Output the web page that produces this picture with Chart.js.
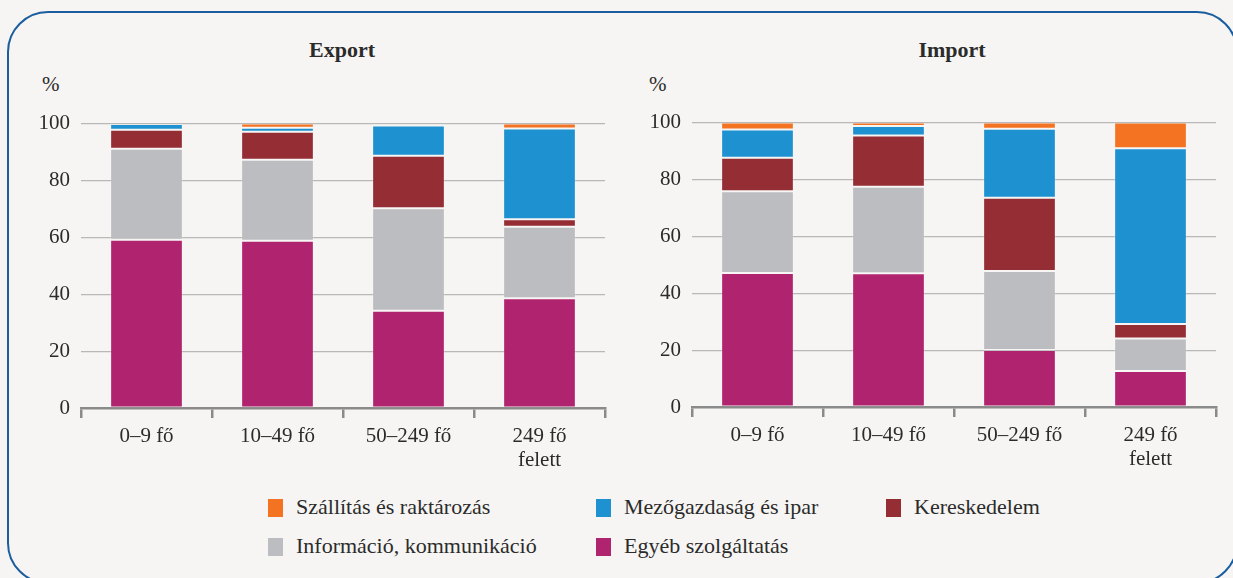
<!DOCTYPE html>
<html>
<head>
<meta charset="utf-8">
<script src="https://cdn.jsdelivr.net/npm/chart.js@4.4.0/dist/chart.umd.min.js"></script>
<style>
  html, body { margin: 0; padding: 0; background: #f6f5f3; }
  body { width: 1233px; height: 578px; position: relative; overflow: hidden;
         font-family: 'Liberation Serif'; color: #2b2b2b; }
  #frame { position: absolute; left: 7px; top: 11px; width: 1231px; height: 573px;
           box-sizing: border-box; border: 2.5px solid #1b5e9f; border-radius: 41px; }
  .title { position: absolute; top: 37px; font-size: 22px; font-weight: bold; text-align: center; width: 200px; }
  .unit { position: absolute; top: 72px; font-size: 21px; }
  .box { position: absolute; }
  #legend { position: absolute; left: 0; top: 0; }
  .item { position: absolute; font-size: 22px; white-space: nowrap; line-height: 20px; }
  .item span.sw { display: inline-block; width: 15px; height: 18px; vertical-align: -3px; margin-right: 13px; }
</style>
</head>
<body>
<div id="frame"></div>
<div class="title" style="left:242px">Export</div>
<div class="title" style="left:852px">Import</div>
<div class="unit" style="left:42px">%</div>
<div class="unit" style="left:649px">%</div>
<div class="box" style="left:10px; top:100px; width:600px; height:370px;"><canvas id="exportChart"></canvas></div>
<div class="box" style="left:617px; top:99px; width:604px; height:370px;"><canvas id="importChart"></canvas></div>
<div id="legend"></div>
<script>
// <![CDATA[
var categories = [["0–9 fő"], ["10–49 fő"], ["50–249 fő"], ["249 fő", "felett"]];
var seriesNames = ["Egyéb szolgáltatás", "Információ, kommunikáció", "Kereskedelem", "Mezőgazdaság és ipar", "Szállítás és raktározás"];

// export, % (bottom to top of each bar)
var exportEgyeb = [59.2, 58.8, 34.2, 38.6];
var exportInfo = [32.0, 28.5, 36.0, 25.1];
var exportKer = [6.6, 9.8, 18.5, 2.7];
var exportMezo = [2.1, 1.4, 10.6, 31.9];
var exportSzall = [0.1, 1.5, 0.7, 1.7];

// import, %
var importEgyeb = [47.1, 47.0, 20.0, 12.7];
var importInfo = [28.8, 30.4, 27.8, 11.4];
var importKer = [11.7, 18.1, 25.8, 5.1];
var importMezo = [10.0, 3.3, 24.2, 61.8];
var importSzall = [2.4, 1.2, 2.2, 9.0];

var seriesColors = ["#b0246f", "#bcbdc0", "#952d34", "#1e91d0", "#f47322"];
var fontFamily = "'Liberation Serif'";

function makeChart(id, series, yWidth) {
        var datasets = series.map(function (vals, i) {
                return {
                        label: seriesNames[i],
                        data: vals,
                        backgroundColor: seriesColors[i],
                        borderColor: "rgba(255,255,255,0.18)",
                        borderWidth: 1,
                        borderSkipped: false,
                        barPercentage: 0.555,
                        categoryPercentage: 1
                };
        });
        var ctx = document.getElementById(id).getContext("2d");
        return new Chart(ctx, {
                type: 'bar',
                data: { labels: categories, datasets: datasets },
                options: {
                        responsive: true,
                        maintainAspectRatio: false,
                        animation: false,
                        layout: { padding: { top: 22, right: 5, bottom: 0, left: 0 } },
                        plugins: { legend: { display: false }, tooltip: { enabled: false } },
                        scales: {
                                x: {
                                        stacked: true,
                                        grid: { offset: true, drawOnChartArea: false, drawTicks: true, tickLength: 10, color: "#8a8a8a", lineWidth: 2.5 },
                                        border: { display: true, color: "#8a8a8a", width: 2.5 },
                                        ticks: { color: "#2b2b2b", padding: 7, font: { family: fontFamily, size: 21, lineHeight: 1.12 } },
                                        afterFit: function (scale) { scale.height = 62; }
                                },
                                y: {
                                        stacked: true,
                                        min: 0,
                                        max: 100,
                                        grid: { drawTicks: false, color: "#b8b8b8", lineWidth: 1.2 },
                                        border: { display: false },
                                        ticks: { stepSize: 20, color: "#2b2b2b", padding: 11, font: { family: fontFamily, size: 21 } },
                                        afterFit: function (scale) { scale.width = yWidth; }
                                }
                        }
                }
        });
}

var exportChart = makeChart("exportChart", [exportEgyeb, exportInfo, exportKer, exportMezo, exportSzall], 71);
var importChart = makeChart("importChart", [importEgyeb, importInfo, importKer, importMezo, importSzall], 75);

// legend (same order as the original: top row first)
var legendOrder = [4, 3, 2, 1, 0];
var legendX = [268, 596, 886];
var legendY = [497, 536];
var legend = document.getElementById('legend');
legendOrder.forEach(function (s, k) {
        var d = document.createElement('div');
        d.className = 'item';
        d.style.left = legendX[k % 3] + 'px';
        d.style.top = legendY[Math.floor(k / 3)] + 'px';
        d.innerHTML = '<span class="sw" style="background:' + seriesColors[s] + '"></span>' + seriesNames[s];
        legend.appendChild(d);
});
// ]]>
</script>
</body>
</html>
